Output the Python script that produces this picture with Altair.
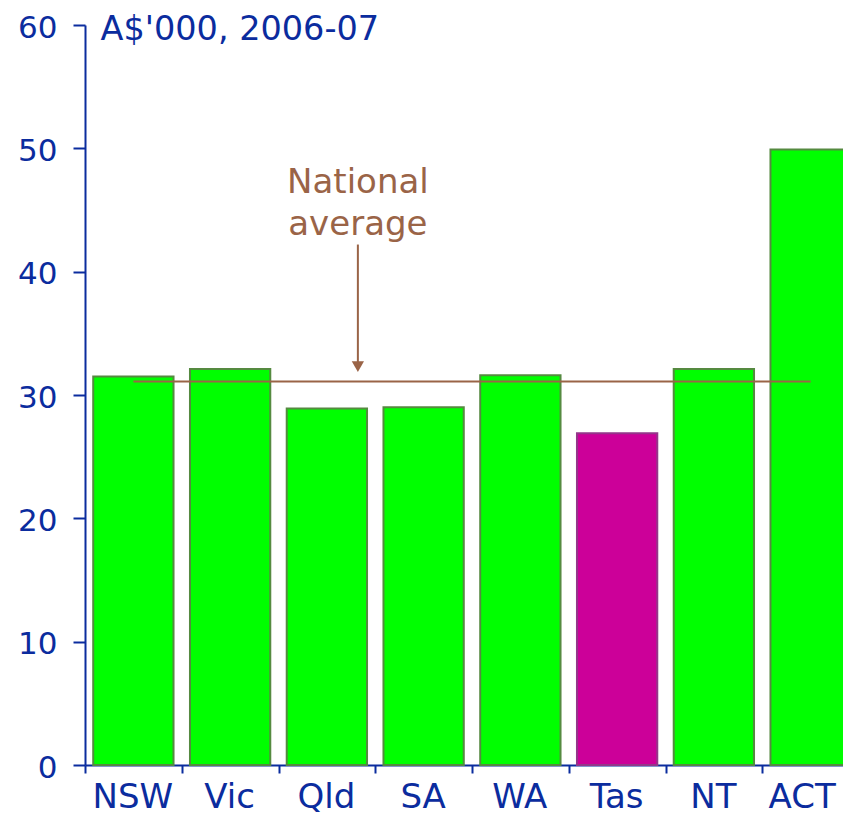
import altair as alt
import pandas as pd

# ---- data ----
states = ["NSW", "Vic", "Qld", "SA", "WA", "Tas", "NT", "ACT"]
values = [31.5, 32.1, 28.9, 29.0, 31.6, 26.9, 32.1, 49.9]
highlight = ["other", "other", "other", "other", "other", "Tas", "other", "other"]
national_average = 31.1
y_ticks = [0, 10, 20, 30, 40, 50, 60]
annotation_lines = ["National", "average"]
annotation_y = 47.2
arrow_top = 42.2
arrow_tip = 32.3

AXIS = "#0B2C9E"
BROWN = "#9A6447"
FONT = "DejaVu Sans"

df = pd.DataFrame({"state": states, "value": values, "kind": highlight})

x_scale = alt.Scale(domain=states, paddingInner=0, paddingOuter=0)
y_scale = alt.Scale(domain=[0, 60], nice=False, padding=0, zero=True)

bars = alt.Chart(df).mark_bar(strokeWidth=2, width=alt.RelativeBandSize(0.83)).encode(
    x=alt.X("state:N", scale=x_scale, sort=states,
            axis=alt.Axis(title=None, labelAngle=0, tickBand="extent", grid=False,
                          labelFontSize=34, labelFont=FONT, labelColor=AXIS,
                          labelBaseline="alphabetic", labelPadding=34,
                          labelOffset=alt.expr("datum.value === 'ACT' ? -9 : -1"),
                          tickSize=8, tickWidth=2, tickColor=AXIS,
                          domainColor=AXIS, domainWidth=2)),
    y=alt.Y("value:Q", scale=y_scale,
            axis=alt.Axis(values=y_ticks, grid=False, title="A$'000, 2006-07",
                          titleAngle=0, titleX=15, titleY=14, titleAlign="left",
                          titleBaseline="alphabetic", titleFontSize=33.5,
                          titleFontWeight="normal", titleFont=FONT, titleColor=AXIS,
                          labelFontSize=31, labelFont=FONT, labelColor=AXIS,
                          labelPadding=16, labelOffset=3, tickSize=12, tickWidth=2, tickColor=AXIS,
                          domainColor=AXIS, domainWidth=2)),
    fill=alt.Fill("kind:N", scale=alt.Scale(domain=["other", "Tas"], range=["#00FF00", "#CC0099"]), legend=None),
    stroke=alt.Stroke("kind:N", scale=alt.Scale(domain=["other", "Tas"], range=["#558A40", "#94368A"]), legend=None),
)

avg_df = pd.DataFrame({"start": [states[0]], "end": [states[-1]], "avg": [national_average]})
avg_rule = alt.Chart(avg_df).mark_rule(color=BROWN, strokeWidth=2).encode(
    x=alt.X("start:N", scale=x_scale, sort=states),
    x2="end:N",
    y=alt.Y("avg:Q", scale=y_scale),
)

arrow_df = pd.DataFrame({"state": ["Qld"], "top": [arrow_top], "tip": [arrow_tip]})
arrow_shaft = alt.Chart(arrow_df).mark_rule(color=BROWN, strokeWidth=2, xOffset=31).encode(
    x=alt.X("state:N", scale=x_scale, sort=states),
    y=alt.Y("top:Q", scale=y_scale),
    y2="tip:Q",
)
arrow_head = alt.Chart(arrow_df).mark_point(shape="triangle-down", filled=True, color=BROWN,
                                            size=150, opacity=1, xOffset=31).encode(
    x=alt.X("state:N", scale=x_scale, sort=states),
    y=alt.Y("tip:Q", scale=y_scale),
)

text_df = pd.DataFrame({"state": ["Qld"], "y": [annotation_y], "label": [annotation_lines]})
annotation = alt.Chart(text_df).mark_text(color=BROWN, fontSize=34, font=FONT, lineHeight=42,
                                          align="center", baseline="middle", xOffset=31).encode(
    x=alt.X("state:N", scale=x_scale, sort=states),
    y=alt.Y("y:Q", scale=y_scale),
    text="label",
)

chart = alt.layer(bars, avg_rule, arrow_shaft, arrow_head, annotation).properties(
    width=774, height=740,
    background="white",
    autosize=alt.AutoSizeParams(type="none"),
    padding={"left": 77, "top": 17, "right": -16, "bottom": 53},
).configure_view(strokeWidth=0).configure_axis(grid=False)

chart.save("out.html", embed_options={"renderer": "svg", "actions": False})
